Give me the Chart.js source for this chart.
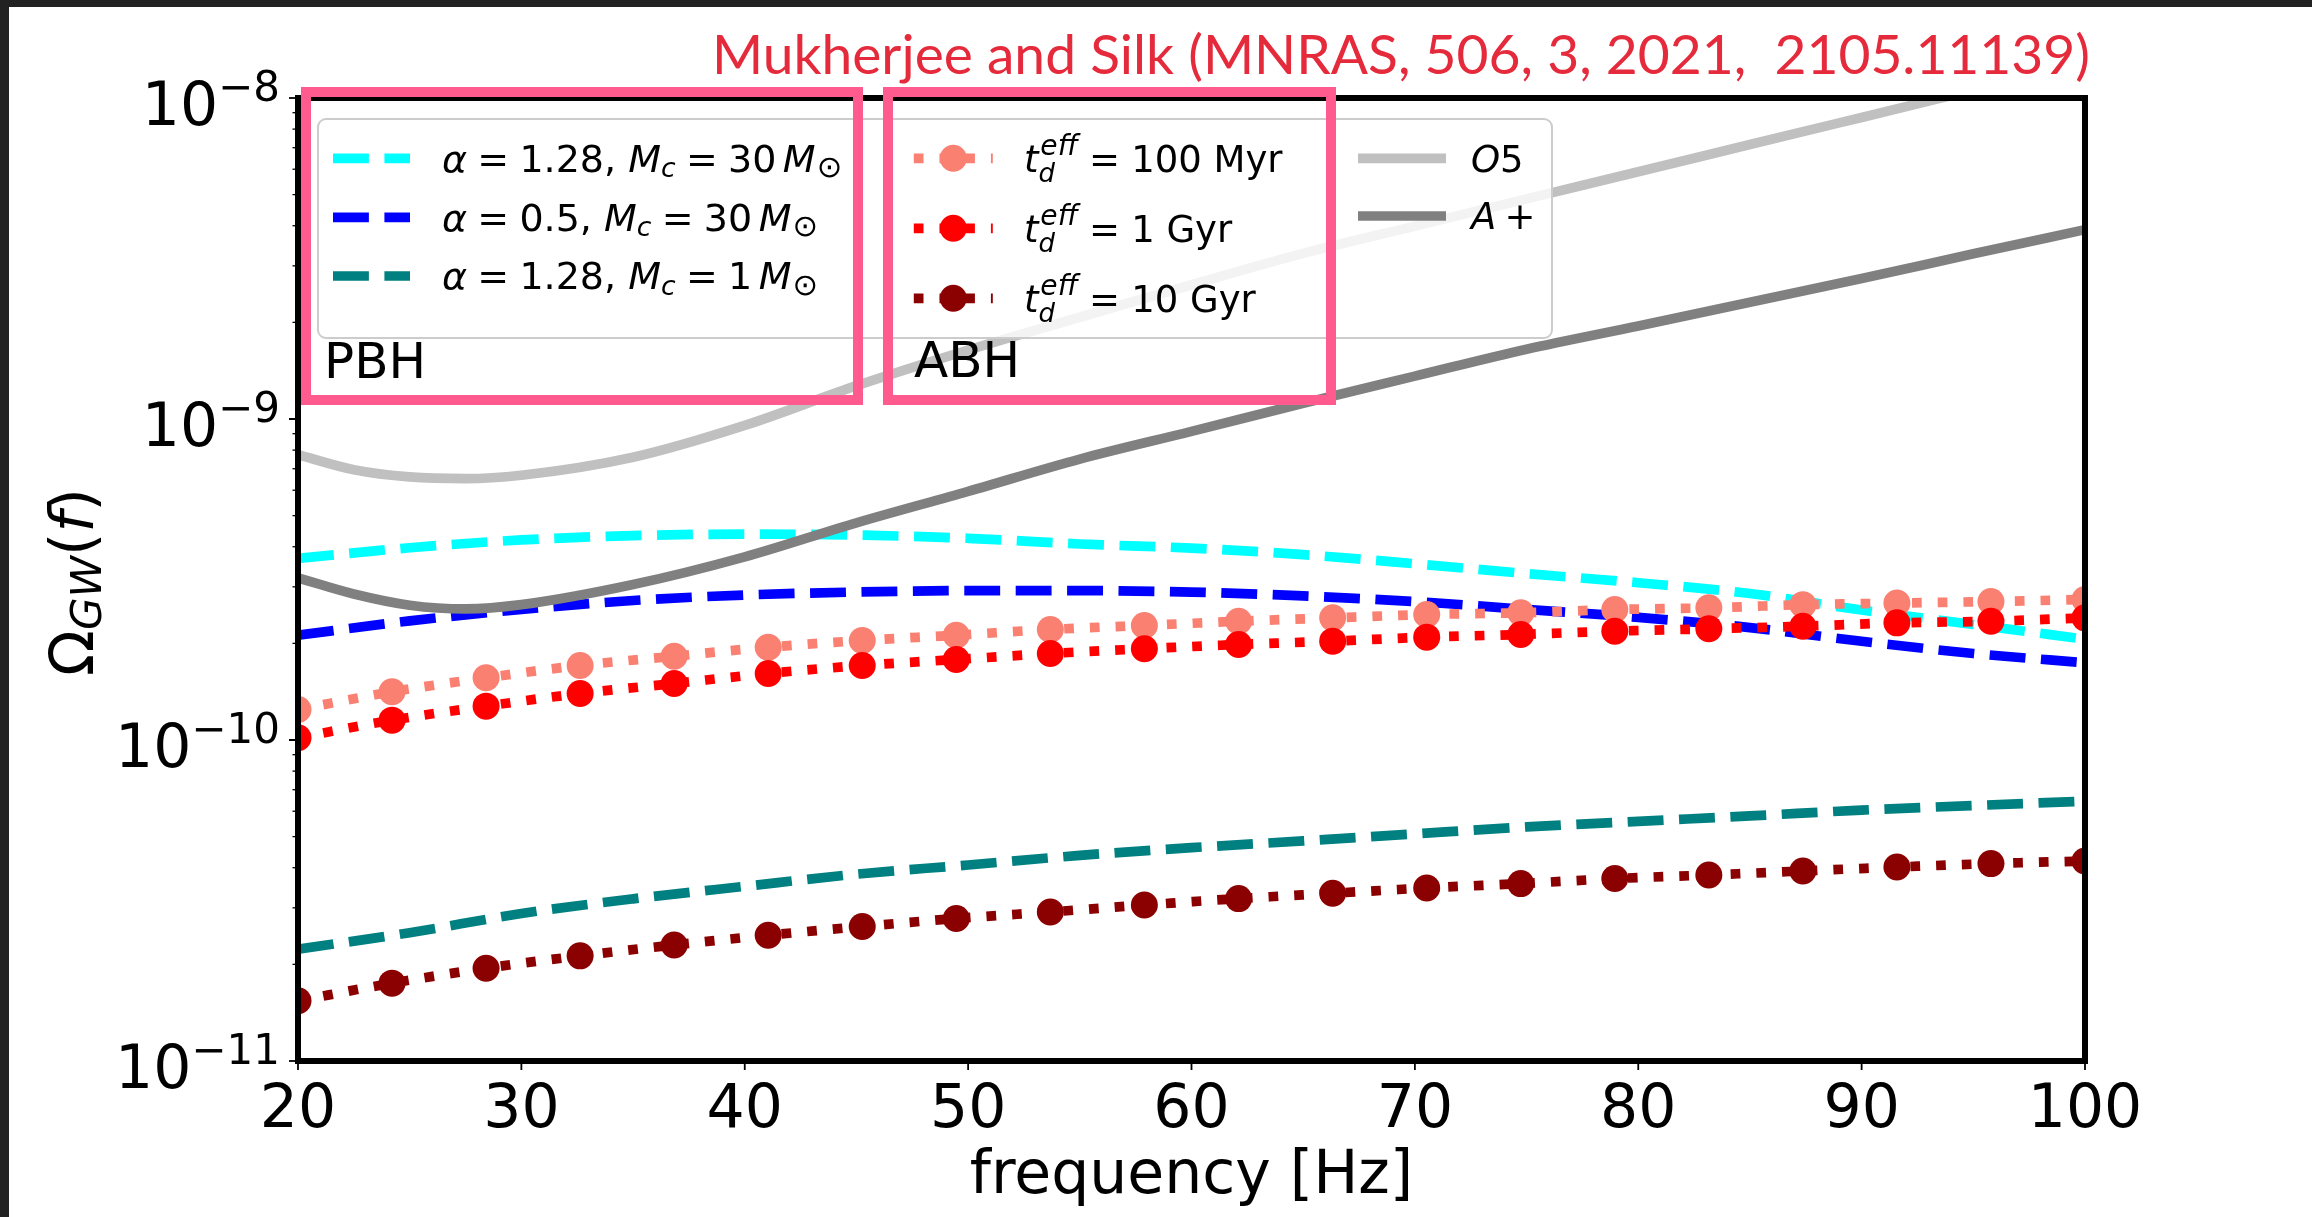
<!DOCTYPE html>
<html lang="en">
<head>
    <meta charset="UTF-8">
    <title>Omega_GW(f)</title>
    <script src="https://cdn.jsdelivr.net/npm/chart.js"></script>
    <style>
        body { margin: 0; background: #fff; }
        canvas { display: block; }
    </style>
</head>
<body>
    <canvas id="gw-chart" width="2312" height="1217"></canvas>

    <script>
        // PBH curves, read every 5 Hz
        const pbhFreq = [20, 25, 30, 35, 40, 45, 50, 55, 60, 65, 70, 75, 80, 85, 90, 95, 100];
        const pbhA128M30 = [3.68e-10, 3.97e-10, 4.2e-10, 4.33e-10, 4.38e-10, 4.35e-10, 4.25e-10, 4.08e-10, 3.96e-10, 3.78e-10, 3.54e-10, 3.3e-10, 3.09e-10, 2.86e-10, 2.54e-10, 2.29e-10, 2.06e-10];
        const pbhA05M30 = [2.12e-10, 2.35e-10, 2.55e-10, 2.72e-10, 2.83e-10, 2.89e-10, 2.92e-10, 2.92e-10, 2.89e-10, 2.81e-10, 2.7e-10, 2.55e-10, 2.41e-10, 2.24e-10, 2.03e-10, 1.86e-10, 1.74e-10];
        const pbhA128M1 = [2.23e-11, 2.51e-11, 2.88e-11, 3.2e-11, 3.5e-11, 3.82e-11, 4.08e-11, 4.37e-11, 4.62e-11, 4.85e-11, 5.1e-11, 5.36e-11, 5.58e-11, 5.8e-11, 6.05e-11, 6.25e-11, 6.45e-11];

        // ABH curves, one value per marker
        const abhFreq = [20, 24.21, 28.42, 32.63, 36.84, 41.05, 45.26, 49.47, 53.68, 57.89, 62.11, 66.32, 70.53, 74.74, 78.95, 83.16, 87.37, 91.58, 95.79, 100];
        const abh100Myr = [1.245e-10, 1.413e-10, 1.563e-10, 1.707e-10, 1.824e-10, 1.946e-10, 2.042e-10, 2.121e-10, 2.21e-10, 2.274e-10, 2.344e-10, 2.402e-10, 2.46e-10, 2.49e-10, 2.549e-10, 2.58e-10, 2.64e-10, 2.67e-10, 2.7e-10, 2.74e-10];
        const abh1Gyr = [1.016e-10, 1.153e-10, 1.275e-10, 1.396e-10, 1.5e-10, 1.612e-10, 1.707e-10, 1.782e-10, 1.86e-10, 1.924e-10, 1.984e-10, 2.032e-10, 2.091e-10, 2.132e-10, 2.183e-10, 2.22e-10, 2.262e-10, 2.317e-10, 2.344e-10, 2.402e-10];
        const abh10Gyr = [1.54e-11, 1.748e-11, 1.946e-11, 2.126e-11, 2.299e-11, 2.465e-11, 2.624e-11, 2.779e-11, 2.913e-11, 3.062e-11, 3.206e-11, 3.331e-11, 3.46e-11, 3.57e-11, 3.701e-11, 3.798e-11, 3.908e-11, 4.021e-11, 4.121e-11, 4.198e-11];

        // detector sensitivity curves
        const detFreq = [20, 22.5, 25, 27.5, 30, 35, 40, 45, 50, 55, 60, 65, 70, 75, 80, 85, 90, 95, 100];
        const o5Curve = [7.74e-10, 6.95e-10, 6.6e-10, 6.52e-10, 6.68e-10, 7.6e-10, 9.55e-10, 1.27e-9, 1.64e-9, 2.075e-9, 2.62e-9, 3.28e-9, 3.99e-9, 4.85e-9, 5.89e-9, 7.16e-9, 8.7e-9, 1.057e-8];
        const aPlusCurve = [3.2e-10, 2.85e-10, 2.63e-10, 2.56e-10, 2.64e-10, 3.05e-10, 3.72e-10, 4.75e-10, 5.95e-10, 7.5e-10, 9.15e-10, 1.12e-9, 1.36e-9, 1.65e-9, 1.95e-9, 2.31e-9, 2.74e-9, 3.27e-9, 3.89e-9];

        const xTicks = [20, 30, 40, 50, 60, 70, 80, 90, 100];
        const yDecades = [-8, -9, -10, -11];

        const titleText = 'Mukherjee and Silk (MNRAS, 506, 3, 2021,  2105.11139)';
        const LW = 9.7;
        const FONT = '"DejaVu Sans"';

        function toPoints(xs, ys) {
            return ys.map((y, i) => ({ x: xs[i], y: y }));
        }

        function dashed(label, color, ys, order) {
            return {
                label: label, data: toPoints(pbhFreq, ys), borderColor: color,
                borderWidth: LW, borderDash: [3.7 * LW, 1.6 * LW], pointRadius: 0,
                cubicInterpolationMode: 'monotone', clip: 0, order: order
            };
        }

        function dotted(label, color, ys, order) {
            return {
                label: label, data: toPoints(abhFreq, ys), borderColor: color,
                backgroundColor: color, borderWidth: LW, borderDash: [LW, 1.65 * LW],
                pointRadius: 13.5, pointBorderWidth: 0, pointBackgroundColor: color,
                cubicInterpolationMode: 'monotone', clip: 0, order: order
            };
        }

        function solid(label, color, xs, ys, order) {
            return {
                label: label, data: toPoints(xs, ys), borderColor: color,
                borderWidth: LW, pointRadius: 0, cubicInterpolationMode: 'monotone',
                clip: 0, order: order
            };
        }

        // draws a run of mathtext-like pieces, returns its width
        function mathRun(ctx, x, y, parts, size, draw) {
            let cx = x;
            for (const p of parts) {
                cx += (p.gap || 0) * size;
                const pieces = p.stack || [p];
                let w = 0;
                for (const q of pieces) {
                    const s = q.scale ? size * q.scale : ((q.sub || q.sup) ? size * 0.7 : size);
                    ctx.font = (q.it ? 'italic ' : '') + s + 'px ' + FONT;
                    const dy = q.dy !== undefined ? q.dy : (q.sub ? 0.14 : 0);
                    const dx = (q.dx || 0) * size;
                    if (draw) ctx.fillText(q.t, cx + dx, y + dy * size);
                    w = Math.max(w, ctx.measureText(q.t).width + dx);
                }
                cx += w;
            }
            return cx - x;
        }

        const pbhLabels = [
            ['1.28,', '30'], ['0.5,', '30'], ['1.28,', '1']
        ].map(v => [
            { t: 'α', it: 1 }, { t: '=', gap: 0.27 }, { t: v[0], gap: 0.27 },
            { t: 'M', it: 1, gap: 0.32 }, { t: 'c', it: 1, sub: 1 }, { t: '=', gap: 0.27 },
            { t: v[1], gap: 0.27 }, { t: 'M', it: 1, gap: 0.17 }, { t: '⊙', sub: 1, scale: 0.8, dx: 0.03 }
        ]);
        const abhLabels = ['100 Myr', '1 Gyr', '10 Gyr'].map(v => [
            { t: 't', it: 1 },
            { stack: [{ t: 'eff', it: 1, sup: 1, scale: 0.76, dy: -0.46, dx: 0.05 }, { t: 'd', it: 1, sub: 1, dy: 0.27 }] },
            { t: '=', gap: 0.3 }, { t: v, gap: 0.3 }
        ]);
        const detLabels = [
            [{ t: 'O', it: 1 }, { t: '5' }],
            [{ t: 'A', it: 1 }, { t: '+', gap: 0.22 }]
        ];

        const chartFrame = {
            id: 'chartFrame',
            afterDatasetsDraw(chart) {
                const ctx = chart.ctx;
                const ds = chart.data.datasets;
                ctx.save();
                // legend frame
                ctx.beginPath();
                ctx.roundRect(318, 119, 1234, 219, 8);
                ctx.fillStyle = 'rgba(255,255,255,0.8)';
                ctx.fill();
                ctx.strokeStyle = '#cccccc';
                ctx.lineWidth = 2;
                ctx.stroke();

                ctx.fillStyle = '#000';
                ctx.textAlign = 'left';
                ctx.textBaseline = 'alphabetic';
                const col1Y = [158.3, 217.3, 276];
                const col2Y = [158.3, 228.3, 298.3];
                const col3Y = [158.3, 216];
                for (let i = 0; i < 3; i++) {
                    const d = ds[i];
                    ctx.strokeStyle = d.borderColor;
                    ctx.lineWidth = LW;
                    ctx.setLineDash(d.borderDash);
                    ctx.beginPath();
                    ctx.moveTo(333, col1Y[i]);
                    ctx.lineTo(410, col1Y[i]);
                    ctx.stroke();
                    mathRun(ctx, 442, col1Y[i] + 13.4, pbhLabels[i], 38, true);

                    const a = ds[3 + i];
                    ctx.strokeStyle = a.borderColor;
                    ctx.setLineDash(a.borderDash);
                    ctx.beginPath();
                    ctx.moveTo(913.8, col2Y[i]);
                    ctx.lineTo(992.8, col2Y[i]);
                    ctx.stroke();
                    ctx.setLineDash([]);
                    ctx.fillStyle = a.borderColor;
                    ctx.beginPath();
                    ctx.arc(953.3, col2Y[i], 13.5, 0, Math.PI * 2);
                    ctx.fill();
                    ctx.fillStyle = '#000';
                    mathRun(ctx, 1024, col2Y[i] + 13.4, abhLabels[i], 37, true);
                }
                for (let i = 0; i < 2; i++) {
                    const d = ds[6 + i];
                    ctx.strokeStyle = d.borderColor;
                    ctx.lineWidth = LW;
                    ctx.setLineDash([]);
                    ctx.beginPath();
                    ctx.moveTo(1358, col3Y[i]);
                    ctx.lineTo(1446, col3Y[i]);
                    ctx.stroke();
                    mathRun(ctx, 1471, col3Y[i] + 13.4, detLabels[i], 37, true);
                }

                ctx.font = '50px ' + FONT;
                ctx.fillText('PBH', 324, 378);
                ctx.fillText('ABH', 914, 377);
                ctx.restore();
            },
            afterDraw(chart) {
                const ctx = chart.ctx;
                const area = chart.chartArea;
                const xs = chart.scales.x;
                const ys = chart.scales.y;
                ctx.save();
                ctx.setLineDash([]);

                // ticks
                ctx.strokeStyle = '#000';
                for (let e = -11; e <= -9; e++) {
                    for (let k = 1; k <= 10; k++) {
                        const major = (k === 1 || k === 10);
                        const py = ys.getPixelForValue(k * Math.pow(10, e));
                        ctx.lineWidth = major ? 1.8 : 1.3;
                        ctx.beginPath();
                        ctx.moveTo(area.left, py);
                        ctx.lineTo(area.left - (major ? 9 : 5.5), py);
                        ctx.stroke();
                    }
                }
                ctx.lineWidth = 1.8;
                xTicks.forEach(v => {
                    const px = xs.getPixelForValue(v);
                    ctx.beginPath();
                    ctx.moveTo(px, area.bottom);
                    ctx.lineTo(px, area.bottom + 9);
                    ctx.stroke();
                });

                // spines
                ctx.lineWidth = 6;
                ctx.strokeRect(area.left, area.top, area.right - area.left, area.bottom - area.top);

                // tick labels
                ctx.fillStyle = '#000';
                ctx.textBaseline = 'alphabetic';
                ctx.textAlign = 'left';
                yDecades.forEach(e => {
                    const py = ys.getPixelForValue(Math.pow(10, e));
                    const parts = [{ t: '10' }, { t: '−' + (-e), sup: 1, dy: -0.4 }];
                    const w = mathRun(ctx, 0, 0, parts, 60, false);
                    mathRun(ctx, 280 - w, py + 26.5, parts, 60, true);
                });
                ctx.textAlign = 'center';
                ctx.font = '60px ' + FONT;
                xTicks.forEach(v => {
                    ctx.fillText(String(v), xs.getPixelForValue(v), 1126.7);
                });
                ctx.fillText('frequency [Hz]', (area.left + area.right) / 2, 1193);

                // y axis title
                ctx.textAlign = 'left';
                const yParts = [{ t: 'Ω' }, { t: 'GW', it: 1, sub: 1, dy: 0.13 }, { t: '(' }, { t: 'f', it: 1 }, { t: ')' }];
                const yw = mathRun(ctx, 0, 0, yParts, 60, false);
                ctx.save();
                ctx.translate(93, (area.top + area.bottom) / 2 + 2.5 + yw / 2);
                ctx.rotate(-Math.PI / 2);
                mathRun(ctx, 0, 0, yParts, 60, true);
                ctx.restore();

                // highlight boxes
                ctx.strokeStyle = '#ff5b8f';
                ctx.lineWidth = 10;
                ctx.strokeRect(306, 92, 552, 308);
                ctx.strokeRect(888, 92, 443, 308);

                // title
                ctx.font = '54px Lato';
                const tw = ctx.measureText(titleText).width;
                ctx.translate(2090, 74);
                ctx.scale(1378 / tw, 1);
                ctx.textAlign = 'right';
                ctx.fillStyle = '#e52a3c';
                ctx.fillText(titleText, 0, 0);
                ctx.restore();

                // screenshot edge
                ctx.fillStyle = '#222222';
                ctx.fillRect(0, 0, chart.width, 7);
                ctx.fillRect(0, 0, 9, chart.height);
            }
        };

        new Chart(document.getElementById('gw-chart'), {
            type: 'line',
            data: {
                datasets: [
                    dashed('α=1.28, Mc=30 M☉', '#00ffff', pbhA128M30, 7),
                    dashed('α=0.5, Mc=30 M☉', '#0000ff', pbhA05M30, 6),
                    dashed('α=1.28, Mc=1 M☉', '#008080', pbhA128M1, 5),
                    dotted('t_d^eff=100 Myr', '#fa8072', abh100Myr, 4),
                    dotted('t_d^eff=1 Gyr', '#ff0000', abh1Gyr, 3),
                    dotted('t_d^eff=10 Gyr', '#8b0000', abh10Gyr, 2),
                    solid('O5', '#c0c0c0', detFreq, o5Curve, 1),
                    solid('A+', '#808080', detFreq, aPlusCurve, 0)
                ]
            },
            options: {
                responsive: false,
                animation: false,
                devicePixelRatio: 1,
                layout: { padding: { left: 298, top: 98, right: 227, bottom: 156 } },
                scales: {
                    x: { type: 'linear', min: 20, max: 100, display: false },
                    y: { type: 'logarithmic', min: 1e-11, max: 1e-8, display: false }
                },
                plugins: {
                    legend: { display: false },
                    tooltip: { enabled: false }
                }
            },
            plugins: [chartFrame]
        });
    </script>
</body>
</html>
